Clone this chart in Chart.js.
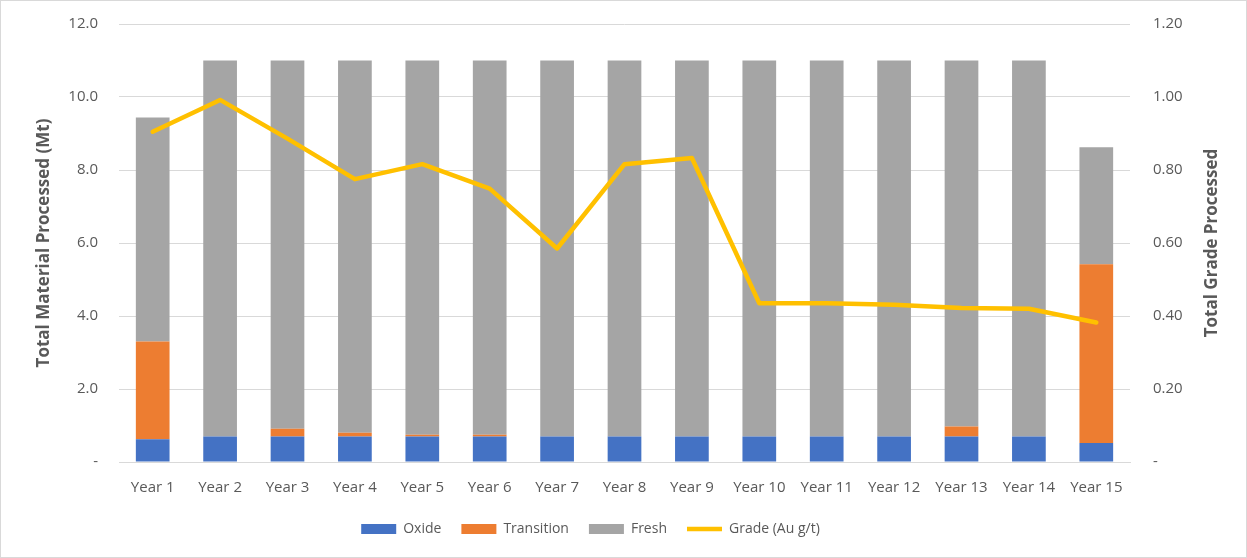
<!DOCTYPE html>
<html>
<head>
<meta charset="utf-8">
<script src="https://cdn.jsdelivr.net/npm/chart.js@4.4.1/dist/chart.umd.min.js"></script>
<style>
  html, body { margin: 0; padding: 0; background: #fff; }
  #wrap { width: 1247px; height: 558px; position: relative; }
</style>
</head>
<body>
<div id="wrap"><canvas id="plant-chart" width="1247" height="558"></canvas></div>
<script>
// Categories and tonnages (Mt) per material type
const years = ['Year 1', 'Year 2', 'Year 3', 'Year 4', 'Year 5', 'Year 6', 'Year 7', 'Year 8',
               'Year 9', 'Year 10', 'Year 11', 'Year 12', 'Year 13', 'Year 14', 'Year 15'];
const oxide      = [0.62, 0.70, 0.70, 0.70, 0.70, 0.70, 0.70, 0.70, 0.70, 0.70, 0.70, 0.70, 0.70, 0.70, 0.52];
const transition = [2.68, 0.00, 0.21, 0.10, 0.05, 0.05, 0.00, 0.00, 0.00, 0.00, 0.00, 0.00, 0.27, 0.00, 4.90];
const fresh      = [6.14, 10.30, 10.09, 10.20, 10.25, 10.25, 10.30, 10.30, 10.30, 10.30, 10.30, 10.30, 10.03, 10.30, 3.20];
// Head grade (Au g/t)
const grade      = [0.905, 0.992, 0.886, 0.775, 0.816, 0.749, 0.585, 0.816, 0.833, 0.435, 0.435, 0.431, 0.422, 0.420, 0.382];

const leftTicks = { min: 0, max: 12, step: 2 };
const rightTicks = { min: 0, max: 1.2, step: 0.2 };

const FONT = "'Open Sans', 'Noto Sans', sans-serif";
const GREY_TEXT = '#595959';
const GRID = '#d9d9d9';

// frame around the whole figure + right axis title (reads bottom to top)
const framePlugin = {
  id: 'frame',
  afterLayout(chart) {
    // legend sits a little left of centre
    if (chart.legend) chart.legend.right -= 66;
  },
  afterDraw(chart) {
    const ctx = chart.ctx;
    ctx.save();
    ctx.strokeStyle = GRID;
    ctx.lineWidth = 1;
    ctx.strokeRect(0.5, 0.5, chart.width - 1, chart.height - 1);
    const area = chart.chartArea;
    ctx.translate(1212, (area.top + area.bottom) / 2);
    ctx.rotate(-Math.PI / 2);
    ctx.fillStyle = GREY_TEXT;
    ctx.font = "bold 17px " + FONT;
    ctx.textAlign = 'center';
    ctx.textBaseline = 'middle';
    ctx.fillText('Total Grade Processed', 0, 0);
    ctx.restore();
  }
};

// value axes: fixed width, no extra vertical padding from tick labels
function fixWidth(w) {
  return scale => {
    scale.width = w;
    scale.paddingTop = 0;
    scale.paddingBottom = 0;
  };
}

const ctx = document.getElementById('plant-chart').getContext('2d');
const chart = new Chart(ctx, {
  type: 'bar',
  data: {
    labels: years,
    datasets: [
      { label: 'Oxide', data: oxide, backgroundColor: '#4472c4', stack: 'ore', yAxisID: 'y', order: 2, pointStyle: 'rect' },
      { label: 'Transition', data: transition, backgroundColor: '#ed7d31', stack: 'ore', yAxisID: 'y', order: 2, pointStyle: 'rect' },
      { label: 'Fresh', data: fresh, backgroundColor: '#a5a5a5', stack: 'ore', yAxisID: 'y', order: 2, pointStyle: 'rect' },
      {
        type: 'line', label: 'Grade (Au g/t)', data: grade, yAxisID: 'y1', order: 1,
        borderColor: '#ffc000', backgroundColor: '#ffc000', borderWidth: 4.5,
        borderCapStyle: 'round', borderJoinStyle: 'round',
        pointRadius: 0, pointHoverRadius: 0, tension: 0, pointStyle: 'line'
      }
    ]
  },
  options: {
    responsive: false,
    animation: false,
    layout: { padding: { top: 24, bottom: 12, left: 0, right: 0 } },
    datasets: { bar: { categoryPercentage: 1.0, barPercentage: 0.5 } },
    plugins: {
      tooltip: { enabled: false },
      legend: {
        position: 'bottom',
        labels: {
          usePointStyle: true,
          pointStyleWidth: 35,
          boxHeight: 10,
          padding: 20,
          color: GREY_TEXT,
          font: { family: FONT, size: 14 },
          sort: (a, b) => a.datasetIndex - b.datasetIndex
        }
      }
    },
    scales: {
      x: {
        stacked: true,
        afterFit(scale) { scale.height -= 12; },
        grid: { display: false, drawTicks: false },
        border: { color: GRID, width: 1 },
        ticks: { color: GREY_TEXT, font: { family: FONT, size: 15 }, padding: 17, maxRotation: 0 }
      },
      y: {
        stacked: true,
        position: 'left',
        min: leftTicks.min, max: leftTicks.max,
        afterFit: fixWidth(119),
        grid: { color: GRID, drawTicks: false },
        border: { display: false },
        ticks: {
          stepSize: leftTicks.step, padding: 21, color: GREY_TEXT,
          font: { family: FONT, size: 15 },
          callback: v => v === 0 ? '-' : v.toFixed(1)
        },
        title: {
          display: true, text: 'Total Material Processed (Mt)', color: GREY_TEXT,
          font: { family: FONT, size: 17, weight: 'bold' }, padding: { top: 34, bottom: 0 }
        }
      },
      y1: {
        position: 'right',
        min: rightTicks.min, max: rightTicks.max,
        afterFit: fixWidth(1247 - 1130),
        grid: { display: false, drawTicks: false },
        border: { display: false },
        ticks: {
          stepSize: rightTicks.step, padding: 23, color: GREY_TEXT,
          font: { family: FONT, size: 15 },
          callback: v => Math.abs(v) < 1e-9 ? '-' : v.toFixed(2)
        }
      }
    }
  },
  plugins: [framePlugin]
});
</script>
</body>
</html>
